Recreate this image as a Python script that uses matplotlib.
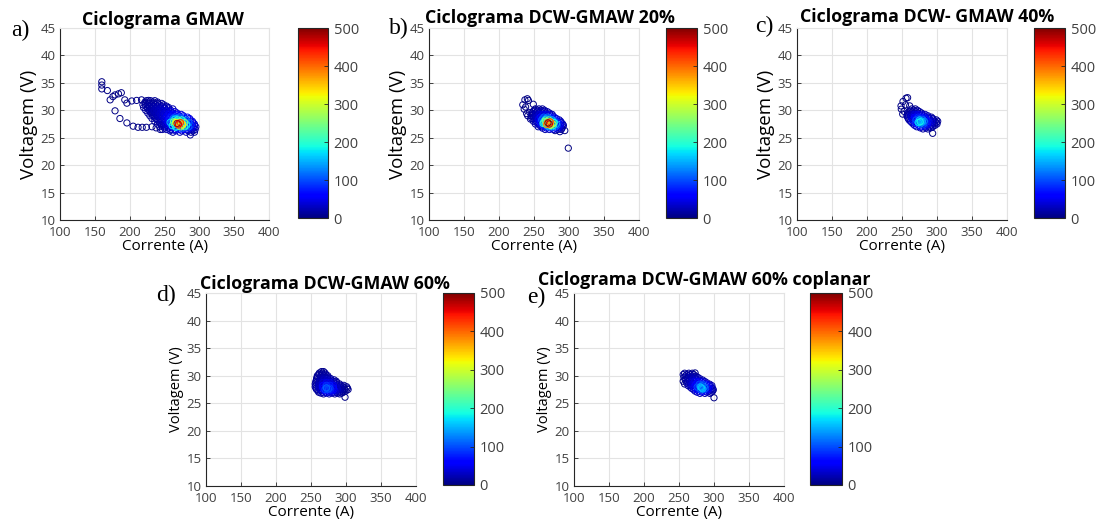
import numpy as np
import matplotlib
matplotlib.use("Agg")
import matplotlib.pyplot as plt
import matplotlib.colors as mcolors
import matplotlib.cm as cm

# ── data: current (A), voltage (V), point density ─────────────────────────
# each list: outliers first, then the cluster row by row (top to bottom)
GMAW_I = [
    160, 160, 160, 168, 172, 176, 179, 184, 188, 193, 196, 203, 210, 217, 227,
    179, 186, 196, 205, 212, 218, 224, 232, 238, 244,
    224, 230, 236,
    222, 228, 234, 240,
    222, 228, 234, 240, 246,
    219, 225, 231, 237, 243, 249,
    223, 229, 235, 241, 247, 253,
    220, 226, 232, 238, 244, 250, 256,
    226, 232, 238, 244, 250, 256, 262,
    223, 229, 235, 241, 247, 253, 259,
    229, 235, 241, 247, 253, 259, 265,
    226, 232, 238, 244, 250, 256, 262, 268,
    232, 238, 244, 250, 256, 262, 268, 274,
    229, 235, 241, 247, 253, 259, 265, 271, 277,
    235, 241, 247, 253, 259, 265, 271, 277, 283,
    232, 238, 244, 250, 256, 262, 268, 274, 280, 286,
    239, 245, 251, 257, 263, 269, 275, 281, 287,
    236, 242, 248, 254, 260, 266, 272, 278, 284, 290,
    243, 249, 255, 261, 267, 273, 279, 285, 291,
    240, 246, 252, 258, 264, 270, 276, 282, 288, 293,
    246, 252, 258, 264, 270, 276, 282, 288, 293,
    243, 249, 255, 261, 267, 273, 279, 285, 291, 295,
    250, 256, 262, 268, 274, 280, 286, 292,
    247, 253, 259, 265, 271, 277, 283, 289, 294,
    258, 266, 275, 284, 291,
    262, 272, 281, 288, 293,
    287,
    266, 270, 268, 263, 272, 261, 275, 258, 265, 274, 266,
]
GMAW_V = [
    35.2, 34.6, 33.9, 33.6, 31.9, 32.5, 32.8, 33.0, 33.2, 31.9, 31.3, 31.7, 31.8, 31.9, 31.8,
    29.9, 28.5, 27.7, 27.1, 26.9, 26.9, 26.9, 27.0, 26.8, 26.5,
    31.75, 31.75, 31.75,
    31.5, 31.5, 31.5, 31.5,
    31.25, 31.25, 31.25, 31.25, 31.25,
    31.0, 31.0, 31.0, 31.0, 31.0, 31.0,
    30.75, 30.75, 30.75, 30.75, 30.75, 30.75,
    30.5, 30.5, 30.5, 30.5, 30.5, 30.5, 30.5,
    30.25, 30.25, 30.25, 30.25, 30.25, 30.25, 30.25,
    30.0, 30.0, 30.0, 30.0, 30.0, 30.0, 30.0,
    29.75, 29.75, 29.75, 29.75, 29.75, 29.75, 29.75,
    29.5, 29.5, 29.5, 29.5, 29.5, 29.5, 29.5, 29.5,
    29.25, 29.25, 29.25, 29.25, 29.25, 29.25, 29.25, 29.25,
    29.0, 29.0, 29.0, 29.0, 29.0, 29.0, 29.0, 29.0, 29.0,
    28.75, 28.75, 28.75, 28.75, 28.75, 28.75, 28.75, 28.75, 28.75,
    28.5, 28.5, 28.5, 28.5, 28.5, 28.5, 28.5, 28.5, 28.5, 28.5,
    28.25, 28.25, 28.25, 28.25, 28.25, 28.25, 28.25, 28.25, 28.25,
    28.0, 28.0, 28.0, 28.0, 28.0, 28.0, 28.0, 28.0, 28.0, 28.0,
    27.75, 27.75, 27.75, 27.75, 27.75, 27.75, 27.75, 27.75, 27.75,
    27.5, 27.5, 27.5, 27.5, 27.5, 27.5, 27.5, 27.5, 27.5, 27.5,
    27.25, 27.25, 27.25, 27.25, 27.25, 27.25, 27.25, 27.25, 27.25,
    27.0, 27.0, 27.0, 27.0, 27.0, 27.0, 27.0, 27.0, 27.0, 27.0,
    26.75, 26.75, 26.75, 26.75, 26.75, 26.75, 26.75, 26.75,
    26.5, 26.5, 26.5, 26.5, 26.5, 26.5, 26.5, 26.5, 26.5,
    26.25, 26.25, 26.25, 26.25, 26.25,
    26.0, 26.0, 26.0, 26.0, 26.0,
    25.5,
    27.8, 27.3, 27.6, 27.9, 27.7, 27.2, 27.4, 27.8, 28.4, 28.2, 26.9,
]
GMAW_D = [
    2, 2, 2, 2, 2, 2, 3, 3, 3, 3, 3, 4, 4, 5, 6,
    2, 2, 2, 2, 3, 3, 3, 4, 5, 6,
    6, 8, 8,
    8, 10, 10, 9,
    10, 12, 13, 13, 12,
    9, 12, 14, 15, 14, 12,
    12, 16, 19, 21, 20, 17,
    10, 14, 18, 20, 22, 20, 16,
    14, 19, 24, 28, 30, 28, 24,
    12, 16, 22, 26, 30, 30, 26,
    15, 21, 27, 33, 38, 40, 36,
    12, 18, 24, 30, 36, 42, 40, 32,
    15, 22, 30, 39, 48, 56, 54, 42,
    12, 18, 26, 34, 44, 56, 62, 52, 36,
    15, 22, 32, 46, 75, 105, 110, 85, 50,
    12, 18, 26, 38, 60, 110, 140, 100, 55, 30,
    15, 24, 36, 70, 140, 210, 200, 120, 50,
    12, 18, 28, 45, 110, 190, 230, 150, 70, 30,
    17, 26, 48, 120, 320, 420, 250, 110, 40,
    14, 20, 34, 70, 200, 460, 330, 160, 60, 28,
    18, 28, 45, 100, 210, 300, 170, 80, 32,
    14, 22, 32, 60, 150, 260, 200, 110, 45, 22,
    16, 26, 40, 75, 110, 80, 48, 25,
    12, 20, 28, 40, 60, 55, 40, 26, 16,
    18, 28, 30, 20, 14,
    16, 24, 22, 16, 12,
    10,
    300, 420, 480, 250, 380, 180, 200, 160, 170, 150, 180,
]

DCW20_I = [
    237, 240.5, 242, 234, 249, 236, 239.5, 241, 238, 299, 287, 294, 280, 245, 244,
    252, 257, 262,
    250, 255, 260, 265,
    249, 254, 259, 264, 269,
    247, 252, 257, 262, 267, 272,
    248, 253, 258, 263, 268, 273, 276,
    246, 251, 256, 261, 266, 271, 276,
    249, 254, 259, 264, 269, 274, 279,
    247, 252, 257, 262, 267, 272, 277, 282,
    251, 256, 261, 266, 271, 276, 281, 286,
    249, 254, 259, 264, 269, 274, 279, 284, 288,
    254, 259, 264, 269, 274, 279, 284, 289,
    252, 257, 262, 267, 272, 277, 282, 287, 291,
    258, 263, 268, 273, 278, 283, 288, 292,
    256, 261, 266, 271, 276, 281, 286, 291,
    262, 268, 274, 280, 286, 290,
    266, 272, 278, 284, 289,
    270, 268, 273, 266, 274, 263, 278,
]
DCW20_V = [
    31.9, 32.1, 31.8, 31.0, 31.1, 30.2, 29.4, 29.0, 30.6, 23.1, 26.1, 26.3, 26.3, 28.4, 29.6,
    30.25, 30.25, 30.25,
    30.0, 30.0, 30.0, 30.0,
    29.75, 29.75, 29.75, 29.75, 29.75,
    29.5, 29.5, 29.5, 29.5, 29.5, 29.5,
    29.25, 29.25, 29.25, 29.25, 29.25, 29.25, 29.25,
    29.0, 29.0, 29.0, 29.0, 29.0, 29.0, 29.0,
    28.75, 28.75, 28.75, 28.75, 28.75, 28.75, 28.75,
    28.5, 28.5, 28.5, 28.5, 28.5, 28.5, 28.5, 28.5,
    28.25, 28.25, 28.25, 28.25, 28.25, 28.25, 28.25, 28.25,
    28.0, 28.0, 28.0, 28.0, 28.0, 28.0, 28.0, 28.0, 28.0,
    27.75, 27.75, 27.75, 27.75, 27.75, 27.75, 27.75, 27.75,
    27.5, 27.5, 27.5, 27.5, 27.5, 27.5, 27.5, 27.5, 27.5,
    27.25, 27.25, 27.25, 27.25, 27.25, 27.25, 27.25, 27.25,
    27.0, 27.0, 27.0, 27.0, 27.0, 27.0, 27.0, 27.0,
    26.75, 26.75, 26.75, 26.75, 26.75, 26.75,
    26.5, 26.5, 26.5, 26.5, 26.5,
    27.7, 27.4, 27.9, 28.0, 27.3, 27.6, 27.8,
]
DCW20_D = [
    2, 2, 2, 2, 3, 2, 3, 3, 2, 1, 4, 3, 5, 6, 5,
    10, 12, 12,
    10, 12, 14, 12,
    12, 18, 22, 24, 18,
    10, 16, 22, 26, 24, 16,
    14, 24, 36, 45, 45, 32, 18,
    10, 18, 30, 42, 48, 40, 22,
    16, 30, 65, 110, 120, 80, 40,
    12, 22, 44, 90, 130, 110, 60, 26,
    20, 40, 110, 200, 230, 150, 70, 26,
    14, 26, 60, 160, 250, 200, 110, 40, 18,
    26, 70, 180, 380, 360, 190, 80, 30,
    16, 34, 90, 220, 470, 280, 140, 50, 20,
    26, 60, 150, 250, 180, 100, 40, 16,
    14, 30, 70, 150, 160, 100, 40, 16,
    24, 45, 70, 50, 28, 14,
    16, 24, 28, 20, 12,
    500, 380, 420, 260, 300, 200, 170,
]

DCW40_I = [
    255.7, 258, 251.4, 248.6, 249, 251, 261, 293.8, 253, 255,
    264, 269,
    262, 267, 272,
    260, 265, 270, 275,
    258, 263, 268, 273, 278,
    258, 263, 268, 273, 278, 283,
    257, 262, 267, 272, 277, 282, 287,
    258, 263, 268, 273, 278, 283, 288, 292,
    259, 264, 269, 274, 279, 284, 289, 294,
    260, 265, 270, 275, 280, 285, 290, 295, 299,
    262, 267, 272, 277, 282, 287, 292, 297, 301,
    264, 269, 274, 279, 284, 289, 294, 299,
    266, 271, 276, 281, 286, 291, 296, 300,
    268, 274, 280, 286, 292, 297,
    271, 277, 283, 289, 294,
    276, 284, 291,
    280, 287,
    276, 273, 279, 275,
]
DCW40_V = [
    32.2, 32.3, 31.6, 30.8, 30.2, 29.3, 30.8, 25.8, 29.8, 31.0,
    30.25, 30.25,
    30.0, 30.0, 30.0,
    29.75, 29.75, 29.75, 29.75,
    29.5, 29.5, 29.5, 29.5, 29.5,
    29.25, 29.25, 29.25, 29.25, 29.25, 29.25,
    29.0, 29.0, 29.0, 29.0, 29.0, 29.0, 29.0,
    28.75, 28.75, 28.75, 28.75, 28.75, 28.75, 28.75, 28.75,
    28.5, 28.5, 28.5, 28.5, 28.5, 28.5, 28.5, 28.5,
    28.25, 28.25, 28.25, 28.25, 28.25, 28.25, 28.25, 28.25, 28.25,
    28.0, 28.0, 28.0, 28.0, 28.0, 28.0, 28.0, 28.0, 28.0,
    27.75, 27.75, 27.75, 27.75, 27.75, 27.75, 27.75, 27.75,
    27.5, 27.5, 27.5, 27.5, 27.5, 27.5, 27.5, 27.5,
    27.25, 27.25, 27.25, 27.25, 27.25, 27.25,
    27.0, 27.0, 27.0, 27.0, 27.0,
    26.8, 26.8, 26.8,
    26.6, 26.6,
    27.9, 27.8, 28.0, 28.2,
]
DCW40_D = [
    2, 2, 2, 2, 3, 3, 4, 2, 3, 3,
    8, 9,
    8, 10, 10,
    12, 16, 18, 14,
    10, 14, 20, 18, 12,
    14, 26, 38, 42, 34, 20,
    12, 22, 36, 44, 40, 28, 14,
    16, 36, 60, 80, 70, 46, 24, 12,
    14, 30, 60, 90, 80, 50, 26, 12,
    18, 45, 100, 150, 120, 70, 34, 16, 10,
    14, 34, 80, 150, 120, 70, 34, 16, 10,
    30, 80, 160, 130, 80, 40, 20, 10,
    20, 60, 130, 100, 60, 30, 16, 10,
    30, 70, 70, 40, 20, 10,
    24, 50, 40, 20, 10,
    20, 18, 10,
    14, 10,
    185, 165, 150, 140,
]

DCW60_I = [
    265, 268,
    262, 266, 270,
    261, 266, 271,
    259, 264, 269, 274,
    259, 264, 269, 274,
    258, 263, 268, 273, 278,
    258, 263, 268, 273, 278, 283,
    257, 262, 267, 272, 277, 282, 286,
    257, 262, 267, 272, 277, 282, 287,
    256, 261, 266, 271, 276, 281, 286, 291,
    257, 262, 267, 272, 277, 282, 287, 292, 297,
    256, 261, 266, 271, 276, 281, 286, 291, 296, 301,
    257, 262, 267, 272, 277, 282, 287, 292, 297, 302,
    258, 263, 268, 273, 278, 283, 288, 293, 298, 303,
    260, 265, 270, 275, 280, 285, 290, 295, 300,
    261, 266, 271, 276, 281, 286, 291, 296,
    264, 272, 280, 288, 294,
    268, 276, 284, 291,
    298.6, 272, 275, 270,
]
DCW60_V = [
    30.75, 30.75,
    30.5, 30.5, 30.5,
    30.25, 30.25, 30.25,
    30.0, 30.0, 30.0, 30.0,
    29.75, 29.75, 29.75, 29.75,
    29.5, 29.5, 29.5, 29.5, 29.5,
    29.25, 29.25, 29.25, 29.25, 29.25, 29.25,
    29.0, 29.0, 29.0, 29.0, 29.0, 29.0, 29.0,
    28.75, 28.75, 28.75, 28.75, 28.75, 28.75, 28.75,
    28.5, 28.5, 28.5, 28.5, 28.5, 28.5, 28.5, 28.5,
    28.25, 28.25, 28.25, 28.25, 28.25, 28.25, 28.25, 28.25, 28.25,
    28.0, 28.0, 28.0, 28.0, 28.0, 28.0, 28.0, 28.0, 28.0, 28.0,
    27.75, 27.75, 27.75, 27.75, 27.75, 27.75, 27.75, 27.75, 27.75, 27.75,
    27.5, 27.5, 27.5, 27.5, 27.5, 27.5, 27.5, 27.5, 27.5, 27.5,
    27.25, 27.25, 27.25, 27.25, 27.25, 27.25, 27.25, 27.25, 27.25,
    27.0, 27.0, 27.0, 27.0, 27.0, 27.0, 27.0, 27.0,
    26.85, 26.85, 26.85, 26.85, 26.85,
    26.7, 26.7, 26.7, 26.7,
    26.1, 27.8, 27.6, 27.5,
]
DCW60_D = [
    6, 6,
    6, 8, 8,
    8, 12, 12,
    8, 12, 14, 10,
    10, 16, 18, 14,
    10, 16, 20, 18, 10,
    12, 20, 28, 30, 22, 12,
    10, 18, 26, 30, 24, 14, 8,
    14, 24, 38, 48, 42, 26, 12,
    12, 20, 34, 48, 42, 28, 16, 8,
    14, 28, 55, 85, 75, 50, 28, 14, 8,
    12, 22, 45, 80, 70, 45, 26, 14, 8, 6,
    14, 30, 60, 100, 90, 60, 32, 18, 10, 6,
    12, 24, 50, 90, 75, 50, 30, 16, 8, 6,
    14, 30, 55, 70, 55, 36, 20, 10, 6,
    10, 20, 34, 40, 32, 20, 10, 6,
    14, 24, 22, 14, 8,
    12, 16, 10, 6,
    2, 110, 100, 95,
]

COPL_I = [
    273, 258, 300, 256,
    258, 264, 269,
    256, 261, 266, 271,
    259, 264, 269, 274,
    257, 262, 267, 272, 277,
    260, 265, 270, 275, 280,
    259, 264, 269, 274, 279, 284,
    262, 267, 272, 277, 282, 287,
    261, 266, 271, 276, 281, 286, 290,
    264, 269, 274, 279, 284, 289, 294,
    263, 268, 273, 278, 283, 288, 293, 297,
    266, 271, 276, 281, 286, 291, 296,
    268, 273, 278, 283, 288, 293, 298,
    271, 276, 281, 286, 291, 296, 299,
    273, 278, 283, 288, 293, 298,
    276, 283, 290, 296,
    280, 287, 294,
    282, 284, 280,
]
COPL_V = [
    30.5, 28.5, 26.0, 29.0,
    30.45, 30.45, 30.45,
    30.2, 30.2, 30.2, 30.2,
    29.95, 29.95, 29.95, 29.95,
    29.7, 29.7, 29.7, 29.7, 29.7,
    29.45, 29.45, 29.45, 29.45, 29.45,
    29.2, 29.2, 29.2, 29.2, 29.2, 29.2,
    28.95, 28.95, 28.95, 28.95, 28.95, 28.95,
    28.7, 28.7, 28.7, 28.7, 28.7, 28.7, 28.7,
    28.45, 28.45, 28.45, 28.45, 28.45, 28.45, 28.45,
    28.2, 28.2, 28.2, 28.2, 28.2, 28.2, 28.2, 28.2,
    27.95, 27.95, 27.95, 27.95, 27.95, 27.95, 27.95,
    27.7, 27.7, 27.7, 27.7, 27.7, 27.7, 27.7,
    27.45, 27.45, 27.45, 27.45, 27.45, 27.45, 27.45,
    27.2, 27.2, 27.2, 27.2, 27.2, 27.2,
    27.0, 27.0, 27.0, 27.0,
    26.8, 26.8, 26.8,
    27.8, 27.6, 28.0,
]
COPL_D = [
    2, 3, 2, 4,
    6, 8, 8,
    8, 12, 12, 8,
    10, 14, 16, 12,
    10, 18, 22, 18, 10,
    12, 20, 26, 26, 18,
    10, 20, 30, 34, 26, 14,
    16, 30, 44, 50, 40, 22,
    12, 24, 40, 56, 60, 40, 20,
    20, 40, 66, 100, 100, 60, 26,
    14, 28, 50, 80, 110, 80, 40, 16,
    24, 50, 100, 150, 120, 60, 24,
    20, 40, 80, 140, 100, 50, 20,
    30, 60, 110, 90, 50, 20, 10,
    20, 40, 60, 45, 24, 12,
    30, 40, 24, 12,
    20, 20, 12,
    160, 150, 130,
]

TITLES = [
    "Ciclograma GMAW",
    "Ciclograma DCW-GMAW 20%",
    "Ciclograma DCW- GMAW 40%",
    "Ciclograma DCW-GMAW 60%",
    "Ciclograma DCW-GMAW 60% coplanar",
]
LETTERS = ["a)", "b)", "c)", "d)", "e)"]
X_TICKS = [100, 150, 200, 250, 300, 350, 400]
Y_TICKS = [10, 15, 20, 25, 30, 35, 40, 45]
CB_TICKS = [0, 100, 200, 300, 400, 500]

# ── layout in pixels (left, top, right, bottom) ───────────────────────────
W, H = 1096, 526
AX_BOX = [(60, 28, 269, 220), (429, 28, 639, 220), (797, 28, 1007, 220),
          (206, 293, 416, 486), (574, 293, 784, 486)]
CB_BOX = [(298, 28, 328, 218), (666, 28, 697, 218), (1034, 28, 1065, 218),
          (443, 293, 474, 485), (810, 293, 842, 485)]
TITLE_POS = [(82, 25), (425, 23), (800, 22), (200, 289), (538, 285)]
LETTER_POS = [(11, 36), (389, 34), (755, 32), (156, 301), (527, 303)]
YLABEL_SIZE = [13.5, 13.5, 13.5, 10.5, 10.5]

SANS = ["Open Sans", "DejaVu Sans"]
TICK_C = "#404040"
GRID_C = "#e3e3e3"


def rect(box):
    l, t, r, b = box
    return [l / W, 1 - b / H, (r - l) / W, (b - t) / H]


def main():
    plt.rcParams["font.family"] = SANS
    fig = plt.figure(figsize=(W / 100, H / 100), dpi=100)

    cmap = plt.get_cmap("jet")
    norm = mcolors.Normalize(vmin=0, vmax=500)

    series = [(GMAW_I, GMAW_V, GMAW_D), (DCW20_I, DCW20_V, DCW20_D),
              (DCW40_I, DCW40_V, DCW40_D), (DCW60_I, DCW60_V, DCW60_D),
              (COPL_I, COPL_V, COPL_D)]

    for k, (cur, volt, dens) in enumerate(series):
        cur, volt, dens = np.asarray(cur), np.asarray(volt), np.asarray(dens)
        order = np.argsort(dens, kind="stable")  # hottest points on top

        ax = fig.add_axes(rect(AX_BOX[k]))
        ax.scatter(cur[order], volt[order], s=20, facecolors="none",
                   edgecolors=cmap(norm(dens[order])), linewidths=0.7, zorder=3)

        ax.set_xlim(100, 400)
        ax.set_ylim(10, 45)
        ax.set_xticks(X_TICKS)
        ax.set_yticks(Y_TICKS)
        ax.grid(True, color=GRID_C, linewidth=0.8)
        ax.set_axisbelow(True)
        for side in ("top", "right"):
            ax.spines[side].set_color(GRID_C)
        for side in ("left", "bottom"):
            ax.spines[side].set_color("#262626")
            ax.spines[side].set_linewidth(0.8)
        ax.tick_params(direction="in", length=3, width=0.6, colors="#262626",
                       labelcolor=TICK_C, labelsize=9.5)
        ax.tick_params(axis="x", pad=4)
        ax.tick_params(axis="y", pad=3)
        ax.set_xlabel("Corrente (A)", fontsize=11, labelpad=0)
        ax.set_ylabel("Voltagem (V)", fontsize=YLABEL_SIZE[k], labelpad=2)

        cax = fig.add_axes(rect(CB_BOX[k]))
        cb = fig.colorbar(cm.ScalarMappable(norm=norm, cmap=cmap), cax=cax,
                          ticks=CB_TICKS)
        cb.outline.set_linewidth(0.8)
        cb.outline.set_edgecolor("#262626")
        cax.tick_params(direction="in", length=3, width=0.6, colors="#262626",
                        labelcolor=TICK_C, labelsize=10.5, pad=4)

        tx, ty = TITLE_POS[k]
        fig.text(tx / W, 1 - ty / H, TITLES[k], ha="left", va="baseline",
                 fontsize=12.8, fontweight="bold", color="black")
        lx, ly = LETTER_POS[k]
        fig.text(lx / W, 1 - ly / H, LETTERS[k], ha="left", va="baseline",
                 fontsize=17, family=["Liberation Serif", "DejaVu Serif"])

    fig.savefig("out.png", dpi=100)


if __name__ == "__main__":
    main()
